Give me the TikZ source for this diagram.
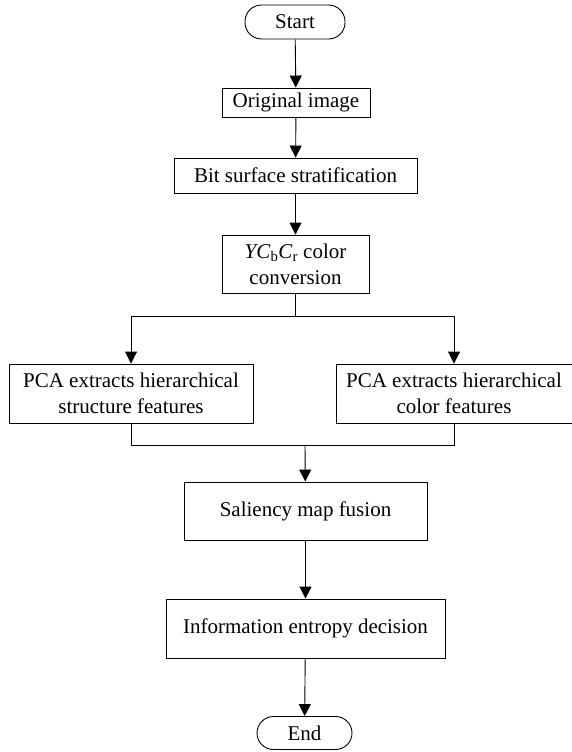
\documentclass[tikz,border=0pt]{standalone}
\usepackage{fontspec}
\setmainfont{Liberation Serif}
\usepackage{tikz}
\usetikzlibrary{arrows.meta}

\begin{document}
\begin{tikzpicture}[x=1pt,y=-1pt,
  >={Triangle[length=12pt,width=12pt]},
  line width=0.9pt,
  every node/.style={font=\fontsize{21}{26}\selectfont},
  box/.style={draw,rectangle,inner sep=0pt,align=center},
  term/.style={draw,rectangle,rounded corners=16.5pt,inner sep=0pt}]

\useasboundingbox (0,0) rectangle (572,752);

\node[term,minimum width=100pt,minimum height=34pt] (start) at (295,22) {Start};

\node[box,minimum width=148pt,minimum height=29pt] (orig) at (296,102.5) {Original image};

\node[box,minimum width=243pt,minimum height=35pt] (bit) at (295.5,175.5) {Bit surface stratification};

\node[box,minimum width=147pt,minimum height=58pt] (ycc) at (295.5,264)
  {\textit{YC}\textsubscript{b}\textit{C}\textsubscript{r} color\\conversion};

\node[box,minimum width=244pt,minimum height=59pt] (pcas) at (131,393.5)
  {PCA extracts hierarchical\\structure features};
\node[box,minimum width=236pt,minimum height=59pt] (pcac) at (454,393.5)
  {PCA extracts hierarchical\\color features};

\node[box,minimum width=243pt,minimum height=58pt] (sal) at (305.5,511) {Saliency map fusion};

\node[box,minimum width=279pt,minimum height=59pt] (info) at (305.5,628.5) {Information entropy decision};

\node[term,minimum width=95pt,minimum height=33pt] (end) at (304.5,733) {End};

\coordinate (split) at (295.5,316);
\coordinate (join) at (305,445);

\draw[->] (start) -- (orig);
\draw[->] (orig) -- (bit);
\draw[->] (bit) -- (ycc);
\draw (ycc) -- (split);
\draw[->] (split) -| (pcas.north);
\draw[->] (split) -| (pcac.north);
\draw (pcas.south) |- (join);
\draw (pcac.south) |- (join);
\draw[->] (join) -- (sal);
\draw[->] (sal) -- (info);
\draw[->] (info) -- (end);

\end{tikzpicture}
\end{document}
